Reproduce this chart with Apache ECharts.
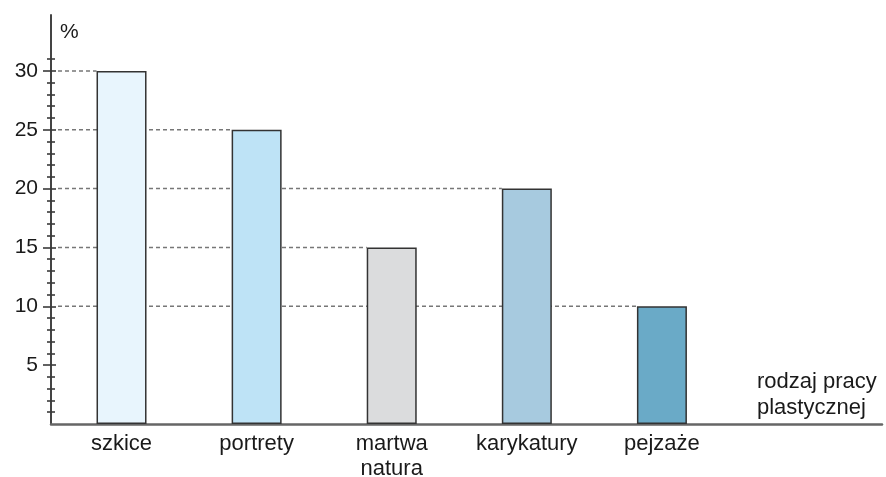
<!DOCTYPE html>
<html>
<head>
<meta charset="utf-8">
<script src="https://cdn.jsdelivr.net/npm/echarts@6/dist/echarts.min.js"></script>
<style>html,body{margin:0;padding:0;background:#fff}#c{width:886px;height:477px}</style>
</head>
<body>
<div id="c"></div>
<script>
const categories = ['szkice', 'portrety', 'martwa\nnatura', 'karykatury', 'pejzaże'];
const values = [30, 25, 15, 20, 10];
const barColors = ['#e8f5fd', '#bee3f6', '#dbdcdd', '#a7cadf', '#6aaac7'];
const majorTicks = [5, 10, 15, 20, 25, 30];
const minorTicks = [1, 2, 3, 4, 6, 7, 8, 9, 11, 12, 13, 14, 16, 17, 18, 19, 21, 22, 23, 24, 26, 27, 28, 29, 31];
const categoryPositions = [0, 1, 2, 3, 4];

const FONT = 'Liberation Sans';
const TXT = '#1a1a1a';
const BAR_W = 50;
const chart = echarts.init(document.getElementById('c'), null, {renderer: 'canvas'});

const barData = values.map((v, i) => ({
  value: [categoryPositions[i], v],
  itemStyle: {color: barColors[i], borderColor: '#333', borderWidth: 1.5}
}));
const lineData = values.map((v, i) => [categoryPositions[i], v]);

function tickAxis(ticks, inside, length) {
  return {
    type: 'value', min: 0, max: 34.75, position: 'left',
    axisLine: {show: false, onZero: false},
    axisTick: {show: true, inside: inside, length: length, customValues: ticks,
               lineStyle: {color: '#3a3a3a', width: 1.6}},
    axisLabel: {show: false},
    splitLine: {show: false}
  };
}

chart.setOption({
  animation: false,
  title: [{
    text: 'rodzaj pracy\nplastycznej',
    left: 757, top: 369,
    padding: 0,
    textStyle: {fontFamily: FONT, fontSize: 22, fontWeight: 'normal', color: TXT, lineHeight: 26}
  }],
  grid: {left: 51, right: 4, top: 15, bottom: 53, containLabel: false, outerBoundsMode: 'none'},
  xAxis: {
    type: 'value', min: -0.522, max: 5.629,
    axisLine: {show: true, onZero: false, lineStyle: {color: '#666', width: 2.5}},
    axisTick: {show: false},
    splitLine: {show: false},
    axisLabel: {
      customValues: categoryPositions,
      formatter: v => categories[v],
      fontFamily: FONT, fontSize: 22, color: TXT, margin: 7, lineHeight: 25
    }
  },
  yAxis: [
    {
      type: 'value', min: 0, max: 34.75, position: 'left',
      name: '%', nameLocation: 'end', nameGap: -17,
      nameTextStyle: {fontFamily: FONT, fontSize: 21, color: TXT, align: 'left', verticalAlign: 'middle', padding: [0, 0, 0, 9]},
      axisLine: {show: true, onZero: false, lineStyle: {color: '#444', width: 2}},
      axisTick: {show: true, inside: false, length: 8, customValues: majorTicks, lineStyle: {color: '#3a3a3a', width: 1.6}},
      axisLabel: {customValues: majorTicks, fontFamily: FONT, fontSize: 21, color: TXT, margin: 13},
      splitLine: {show: false}
    },
    tickAxis(majorTicks, true, 5),
    tickAxis(minorTicks, false, 4),
    tickAxis(minorTicks, true, 4)
  ],
  series: [
    {
      type: 'custom',
      xAxisIndex: 0, yAxisIndex: 0,
      z: 1,
      encode: {x: 0, y: 1},
      data: lineData,
      renderItem: function (params, api) {
        const pt = api.coord([api.value(0), api.value(1)]);
        const x0 = params.coordSys.x + 7;
        return {
          type: 'line',
          shape: {x1: x0, y1: pt[1], x2: pt[0] - BAR_W / 2, y2: pt[1]},
          style: {stroke: '#777', lineWidth: 1.5, lineDash: [4, 3]}
        };
      }
    },
    {
      type: 'bar',
      xAxisIndex: 0, yAxisIndex: 0,
      z: 3,
      barWidth: BAR_W,
      data: barData
    }
  ]
});
</script>
</body>
</html>
